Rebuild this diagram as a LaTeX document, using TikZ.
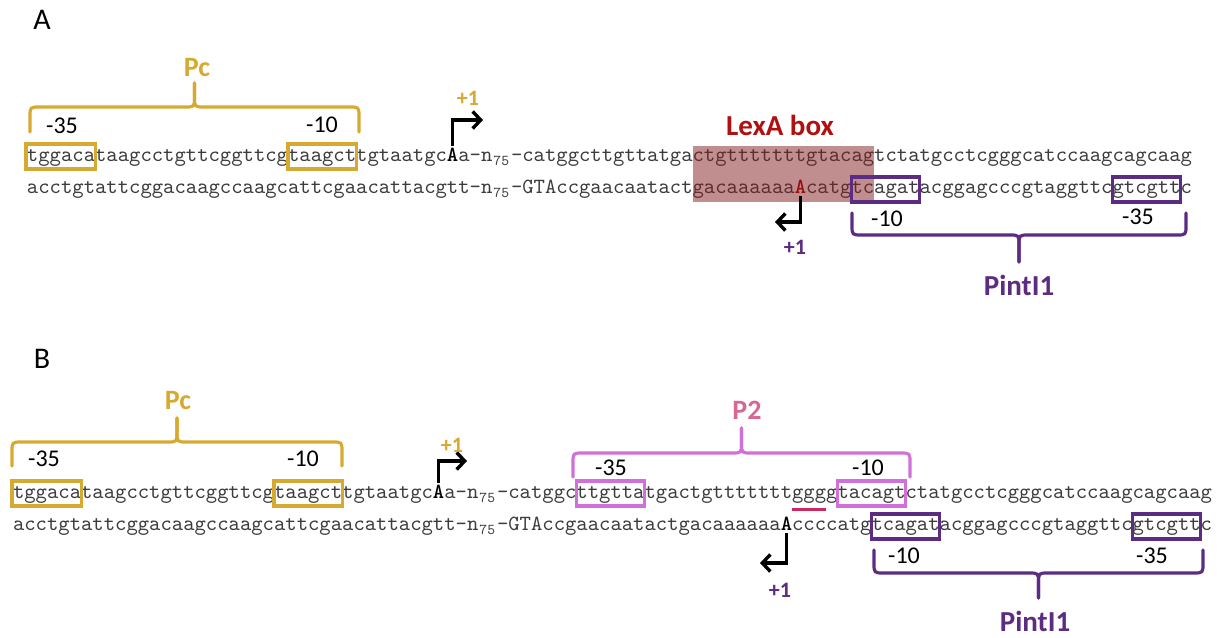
\documentclass[tikz,border=0pt]{standalone}
\usepackage{fontspec}
\setmainfont{Carlito}
\newfontfamily\seqfont{lmmono10-regular.otf}
\newfontfamily\seqbf{lmmonolt10-bold.otf}
\usetikzlibrary{arrows.meta}
\definecolor{goldc}{RGB}{214,170,48}
\definecolor{dpurple}{RGB}{92,44,130}
\definecolor{rosep}{RGB}{214,104,150}
\definecolor{orchid}{RGB}{208,112,216}
\definecolor{crim}{RGB}{206,40,92}
\definecolor{lexred}{RGB}{176,16,16}
\definecolor{seqgray}{RGB}{60,60,60}
\definecolor{shadec}{RGB}{130,30,30}
\definecolor{redA}{RGB}{170,0,0}
\newcommand\cw{11.35}
\newcommand\curlybrace[6]{%
  \pgfmathsetmacro\brXm{(#1+#2)/2}%
  \pgfmathsetmacro\brD{(#4>#3) ? 1 : -1}%
  \pgfmathsetmacro\brYa{#3+10*\brD}%
  \pgfmathsetmacro\brYb{#3-10*\brD}%
  \draw[bracestyle,#6] (#1,#4) -- (#1,\brYa) .. controls (#1,#3) .. ({#1+10},#3) -- ({\brXm-10},#3) .. controls (\brXm,#3) .. (\brXm,\brYb) -- (\brXm,#5);
  \draw[bracestyle,#6] (#2,#4) -- (#2,\brYa) .. controls (#2,#3) .. ({#2-10},#3) -- ({\brXm+10},#3) .. controls (\brXm,#3) .. (\brXm,\brYb) -- (\brXm,#5);
}
\begin{document}
\begin{tikzpicture}[x=1pt,y=-1pt,
  seq/.style={anchor=base west, inner sep=0pt, outer sep=0pt, text=seqgray, font=\seqfont\fontsize{21.62}{23}\selectfont},
  seqbold/.style={seq, text=black, font=\seqbf\fontsize{21.62}{23}\selectfont},
  subs/.style={anchor=base west, inner sep=0pt, outer sep=0pt, text=seqgray, font=\seqfont\fontsize{15}{16}\selectfont},
  panel/.style={inner sep=0pt, font=\fontsize{30}{32}\selectfont},
  num/.style={inner sep=0pt, font=\fontsize{24}{26}\selectfont},
  plabel/.style={inner sep=0pt, font=\bfseries\fontsize{28}{30}\selectfont},
  plus/.style={inner sep=0pt, font=\bfseries\fontsize{22}{24}\selectfont},
  bracestyle/.style={line width=3.2pt, line cap=round, line join=round},
  motif/.style={line width=3.2pt},
  tss/.style={line width=3.4pt, -{Straight Barb[length=8pt,width=17pt]}},
]
\useasboundingbox (0,0) rectangle (1220,637);
\fill[white] (0,0) rectangle (1220,637);
% ================= Panel A =================
\node[panel] (labA) at (42,20) {A};
\node[seq] (tAL1) at (27,161) {tggacataagcctgttcggttcgtaagcttgtaatgc};
\node[seqbold] (tAA) at (tAL1.base east) {A};
\node[seq] (tAL2) at (tAA.base east) {a-n};
\node[subs, xshift=1pt, yshift=-4pt] (tAsub) at (tAL2.base east) {75};
\node[seq] (tAR) at (511,161) {-catggcttgttatgactgtttttttgtacagtctatgcctcgggcatccaagcagcaag};
\node[seq] (bAL) at (27,193) {acctgtattcggacaagccaagcattcgaacattacgtt-n};
\node[subs, xshift=1pt, yshift=-4pt] (bAsub) at (bAL.base east) {75};
\node[seq] (bAR1) at (511,193) {-GTAccgaacaatactgacaaaaaa};
\node[seqbold, text=redA] (bAA) at (bAR1.base east) {A};
\node[seq] (bAR2) at (bAA.base east) {catgtcagatacggagcccgtaggttcgtcgttc};
% LexA box shading
\fill[shadec, opacity=0.5] ({511+16*\cw},146) rectangle ({511+32*\cw},202);
\node[plabel, text=lexred, font=\bfseries\fontsize{29}{31}\selectfont] (lexA) at (780,125) {LexA box};
% Pc (A)
\draw[motif, goldc] (26,144) rectangle ({27+6*\cw},169);
\draw[motif, goldc] ({27+23*\cw},144) rectangle ({27+29*\cw},169);
\curlybrace{30}{359}{107}{132}{83}{goldc}
\node[plabel, text=goldc] (PcA) at (197,68) {Pc};
\node[num] (m35PcA) at (62,126) {-35};
\node[num] (m10PcA) at (322,125) {-10};
% TSS (A)
\coordinate (tAtip) at (483,120);
\draw[tss] ([yshift=2pt]tAA.north) |- (tAtip);
\node[plus, text=goldc] (p1A) at (468,98) {+1};
\coordinate (bAtip) at (775,222);
\draw[tss] ([yshift=-3pt]bAA.south) |- (bAtip);
\node[plus, text=dpurple] (p1Ab) at (795,247) {+1};
% PintI1 (A)
\draw[motif, dpurple] ({511+30*\cw},177) rectangle ({511+36*\cw},202);
\draw[motif, dpurple] ({511+53*\cw},177) rectangle ({511+59*\cw},202);
\curlybrace{852}{1186}{235}{213}{262}{dpurple}
\node[num] (m10IA) at (887,219) {-10};
\node[num] (m35IA) at (1138,217) {-35};
\node[plabel, text=dpurple, font=\bfseries\fontsize{29}{31}\selectfont] (PintA) at (1019,285) {PintI1};
% ================= Panel B =================
\node[panel] (labB) at (42,359) {B};
\node[seq] (tBL1) at (13,498) {tggacataagcctgttcggttcgtaagcttgtaatgc};
\node[seqbold] (tBA) at (tBL1.base east) {A};
\node[seq] (tBL2) at (tBA.base east) {a-n};
\node[subs, xshift=1pt, yshift=-4pt] (tBsub) at (tBL2.base east) {75};
\node[seq] (tBR) at (497,498) {-catggcttgttatgactgtttttttggggtacagtctatgcctcgggcatccaagcagcaag};
\node[seq] (bBL) at (13,530) {acctgtattcggacaagccaagcattcgaacattacgtt-n};
\node[subs, xshift=1pt, yshift=-4pt] (bBsub) at (bBL.base east) {75};
\node[seq] (bBR1) at (497,530) {-GTAccgaacaatactgacaaaaaa};
\node[seqbold] (bBA) at (bBR1.base east) {A};
\node[seq] (bBR2) at (bBA.base east) {ccccatgtcagatacggagcccgtaggttcgtcgttc};
% Pc (B)
\draw[motif, goldc] (12,481) rectangle ({13+6*\cw},506);
\draw[motif, goldc] ({13+23*\cw},481) rectangle ({13+29*\cw},506);
\curlybrace{12}{342}{442}{466}{418}{goldc}
\node[plabel, text=goldc] (PcB) at (178,401) {Pc};
\node[num] (m35PcB) at (44,459) {-35};
\node[num] (m10PcB) at (303,459) {-10};
% P2 (B)
\draw[motif, orchid] ({497+7*\cw},481) rectangle ({497+13*\cw},506);
\draw[motif, orchid] ({497+30*\cw},481) rectangle ({497+36*\cw},506);
\curlybrace{573}{910}{453}{477}{428}{orchid}
\node[plabel, text=rosep] (P2B) at (747,410) {P2};
\node[num] (m35P2) at (611,468) {-35};
\node[num] (m10P2) at (868,468) {-10};
\draw[line width=3.2pt, crim] ({497+26*\cw},509.5) -- ({497+29*\cw},509.5);
% TSS (B)
\coordinate (tBtip) at (467,461);
\draw[tss] ([yshift=2pt]tBA.north) |- (tBtip);
\node[plus, text=goldc] (p1B) at (452,445) {+1};
\coordinate (bBtip) at (760,563);
\draw[tss] ([yshift=-3pt]bBA.south) |- (bBtip);
\node[plus, text=dpurple] (p1Bb) at (780,590) {+1};
% PintI1 (B)
\draw[motif, dpurple] ({497+33*\cw},514) rectangle ({497+39*\cw},539);
\draw[motif, dpurple] ({497+56*\cw},514) rectangle ({497+62*\cw},539);
\curlybrace{874}{1203}{573}{550}{598}{dpurple}
\node[num] (m10IB) at (904,556) {-10};
\node[num] (m35IB) at (1152,556) {-35};
\node[plabel, text=dpurple, font=\bfseries\fontsize{29}{31}\selectfont] (PintB) at (1035,621) {PintI1};
\end{tikzpicture}
\end{document}
